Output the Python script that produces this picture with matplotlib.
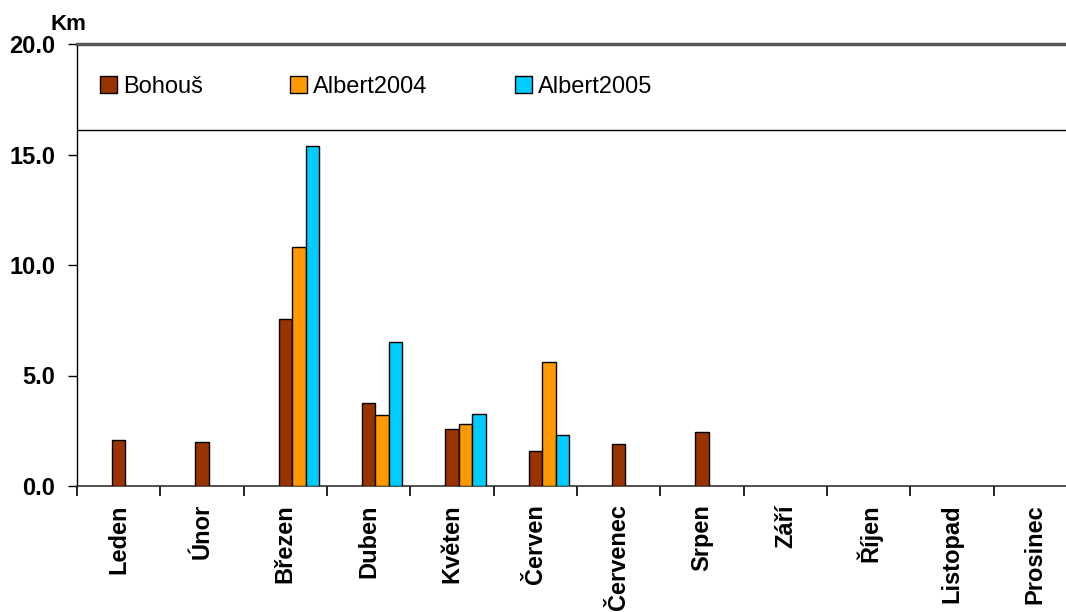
import numpy as np
import matplotlib
matplotlib.use("Agg")
import matplotlib.pyplot as plt
from matplotlib.patches import Patch

# Monthly distances (km)
months = ["Leden", "Únor", "Březen", "Duben", "Květen", "Červen",
          "Červenec", "Srpen", "Září", "Říjen", "Listopad", "Prosinec"]
bohous = [2.1, 2.0, 7.55, 3.75, 2.6, 1.6, 1.9, 2.45, 0, 0, 0, 0]
albert2004 = [0, 0, 10.8, 3.2, 2.8, 5.6, 0, 0, 0, 0, 0, 0]
albert2005 = [0, 0, 15.4, 6.5, 3.25, 2.3, 0, 0, 0, 0, 0, 0]

series = [("Bohouš", bohous, "#993300"),
          ("Albert2004", albert2004, "#FF9900"),
          ("Albert2005", albert2005, "#00CCFF")]

plt.rcParams["font.family"] = ["Liberation Sans", "DejaVu Sans"]

fig = plt.figure(figsize=(10.66, 6.12), dpi=100)
# axes run slightly past the right edge of the figure
ax = fig.add_axes([77 / 1066, 126 / 612, 1000 / 1066, 442 / 612])

x = np.arange(len(months)) + 0.5
w = 0.162
for i, (name, vals, col) in enumerate(series):
    vals = np.array(vals)
    keep = vals > 0
    ax.bar(x[keep] + i * w, vals[keep], width=w, color=col,
           edgecolor="black", linewidth=1.0, zorder=3)

ax.set_xlim(0, len(months))
ax.set_ylim(0, 20)

# y axis
ax.set_yticks([0, 5, 10, 15, 20])
ax.set_yticklabels([f"{v:.1f}" for v in [0, 5, 10, 15, 20]],
                   fontsize=17, fontweight="bold")
ax.tick_params(axis="y", direction="out", length=6.5, width=1, pad=9)

# x axis: boundary ticks, labels centred on categories
ax.set_xticks(np.arange(len(months) + 1))
ax.set_xticklabels([])
ax.set_xticks(x, minor=True)
ax.set_xticklabels(months, minor=True, rotation=90, fontsize=17,
                   fontweight="bold", va="top")
ax.tick_params(axis="x", which="major", direction="out", length=7, width=1.2)
ax.tick_params(axis="x", which="minor", length=0, pad=13)

ax.spines["right"].set_visible(False)
ax.spines["top"].set_color("#555555")
ax.spines["top"].set_linewidth(2.5)
ax.spines["left"].set_linewidth(1.0)
ax.spines["bottom"].set_linewidth(1.2)
ax.spines["bottom"].set_color("#333333")

# legend band across the top of the plot
ax.axhline(16.1, color="black", linewidth=1.0, zorder=2)
handles = [Patch(facecolor=c, edgecolor="black", linewidth=1.0)
           for _, _, c in series]
ax.legend(handles, [s[0] for s in series], ncol=3, loc="center left",
          bbox_to_anchor=(0.023, 0.903), frameon=False, fontsize=17,
          handlelength=0.72, handleheight=0.72, handletextpad=0.25,
          columnspacing=3.7, borderaxespad=0, borderpad=0)

fig.text(50 / 1066, 1 - 24 / 612, "Km", fontsize=16, fontweight="bold",
         ha="left", va="center")

fig.savefig("out.png", dpi=100)
